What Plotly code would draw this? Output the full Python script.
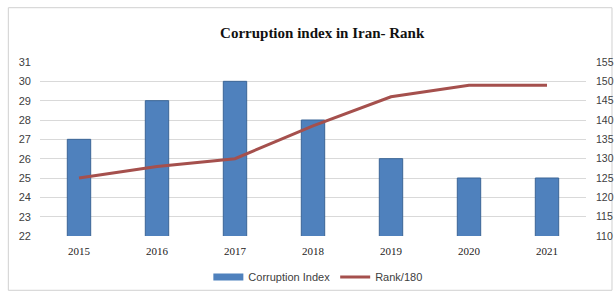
import plotly.graph_objects as go

years = ["2015", "2016", "2017", "2018", "2019", "2020", "2021"]
corruption_index = [27, 29, 30, 28, 26, 25, 25]
rank_180 = [125, 128, 130, 138.5, 146, 149, 149]
left_ticks = list(range(22, 32))
right_ticks = list(range(110, 156, 5))

BAR_COLOR = "#4F81BD"
LINE_COLOR = "#A5504D"

fig = go.Figure()
fig.add_trace(go.Bar(
    x=years, y=corruption_index, name="Corruption Index", showlegend=False,
    marker=dict(color=BAR_COLOR, line=dict(color="#3B6596", width=1)),
    width=0.3, yaxis="y"))
# legend-only entry drawn as a wide swatch like the reference
fig.add_trace(go.Scatter(
    x=[None], y=[None], name="Corruption Index", mode="lines",
    line=dict(color=BAR_COLOR, width=7), yaxis="y"))
fig.add_trace(go.Scatter(
    x=years, y=rank_180, name="Rank/180", mode="lines",
    line=dict(color=LINE_COLOR, width=3), yaxis="y2"))

fig.update_layout(
    width=616, height=293,
    margin=dict(l=40, r=30, t=62, b=57, autoexpand=False),
    paper_bgcolor="white", plot_bgcolor="white",
    title=dict(text="<b>Corruption index in Iran- Rank</b>", x=0.523, xanchor="center",
               y=0.887, yanchor="middle",
               font=dict(family="Liberation Serif", size=15, color="#111111")),
    xaxis=dict(showgrid=False, showline=False, ticks="", automargin=False,
               ticklabelstandoff=7,
               tickfont=dict(family="Liberation Serif", size=11, color="#222222")),
    yaxis=dict(range=[22, 31], tickvals=left_ticks, showgrid=True, gridcolor="#D9D9D9",
               gridwidth=1, zeroline=False, ticks="", automargin=False,
               ticklabelstandoff=8,
               tickfont=dict(family="Liberation Sans", size=11, color="#404040")),
    yaxis2=dict(range=[110, 155], tickvals=right_ticks, overlaying="y", side="right",
                showgrid=False, zeroline=False, ticks="", automargin=False,
                ticklabelstandoff=9,
                tickfont=dict(family="Liberation Sans", size=10.5, color="#404040")),
    legend=dict(orientation="h", xref="container", yref="container",
                x=0.516, xanchor="center", y=0.0546, yanchor="middle",
                font=dict(family="Liberation Sans", size=11, color="#404040"),
                bgcolor="rgba(0,0,0,0)", itemwidth=30),
    showlegend=True,
    shapes=[dict(type="rect", xref="paper", yref="paper",
                 x0=-0.058, x1=1.0476, y0=-0.312, y1=1.312,
                 line=dict(color="#D0D0D0", width=1), layer="below")],
)

fig.write_html("out.html", config={"displayModeBar": False},
               post_script="document.body.style.margin='0px';document.body.style.overflow='hidden';")
